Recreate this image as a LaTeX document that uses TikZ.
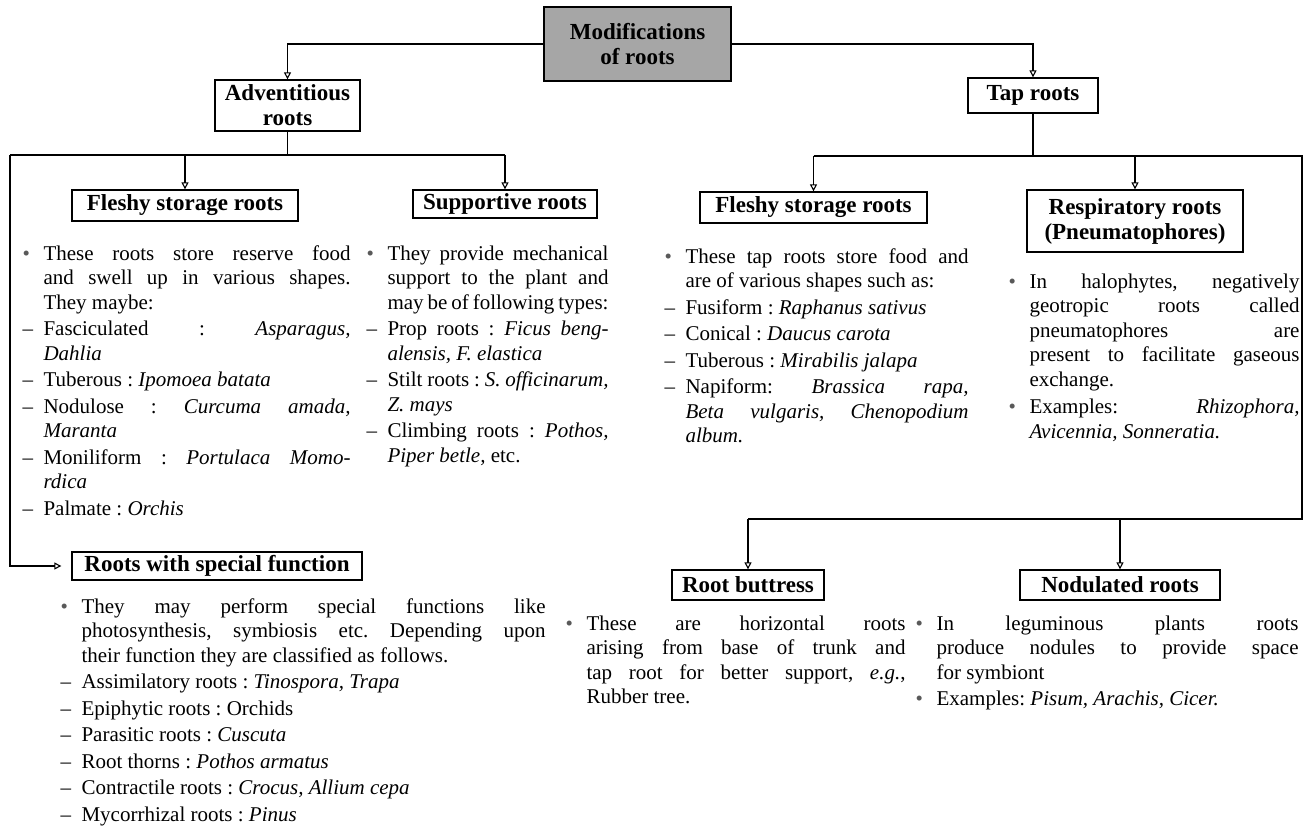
\documentclass[tikz,border=0pt]{standalone}
\usepackage{fontspec}
\setmainfont{Liberation Serif}
\usepackage{tikz}
\usetikzlibrary{arrows.meta}

\tolerance=10000
\hbadness=10000
\hfuzz=30pt
\frenchspacing

% list marks used in the text blocks
\newcommand{\bitem}{\par\hangindent=21pt\hangafter=1\noindent\strut\makebox[21pt][l]{\textcolor{black!65}{\textbullet}}}
\newcommand{\ditem}{\par\vspace{2pt}\hangindent=21pt\hangafter=1\noindent\strut\makebox[21pt][l]{--}}

\begin{document}
\begin{tikzpicture}[x=1pt, y=-1pt, >={Triangle[open, length=7pt, width=7pt]}, line width=1.1pt,
  rootbox/.style={draw, line width=1.3pt, fill=white, font=\fontsize{23}{25}\selectfont\bfseries, align=center, inner sep=2pt},
  titlebox/.style={rootbox, line width=2pt, fill=black!35},
  txt/.style={anchor=north west, inner sep=0pt, align=justify, font=\fontsize{21}{24.5}\selectfont}]

  \useasboundingbox (0,0) rectangle (1308,829);

  % Define positions
  \node (title) [titlebox, minimum width=187pt, minimum height=74pt] at (637.5,44) {Modifications\\of roots};
  \node (advent) [rootbox, minimum width=145pt, minimum height=51pt] at (287.5,105.5) {Adventitious\\roots};
  \node (tap) [rootbox, minimum width=130pt, minimum height=35pt] at (1033,95.5) {Tap roots};

  \node (fleshyA) [rootbox, minimum width=226pt, minimum height=31pt] at (185,205.5) {Fleshy storage roots};
  \node (support) [rootbox, minimum width=184pt, minimum height=28pt] at (505,204) {Supportive roots};
  \node (fleshyT) [rootbox, minimum width=227pt, minimum height=31pt] at (813.5,207.5) {Fleshy storage roots};
  \node (resp) [rootbox, minimum width=216pt, minimum height=62pt] at (1135,221) {Respiratory roots\\(Pneumatophores)};

  \node (special) [rootbox, minimum width=290pt, minimum height=28pt] at (217,566) {Roots with special function};
  \node (buttress) [rootbox, minimum width=152pt, minimum height=30pt] at (748,585) {Root buttress};
  \node (nodul) [rootbox, minimum width=200pt, minimum height=30pt] at (1120,585) {Nodulated roots};

  % Text blocks
  \node (fleshyAtxt) [txt, text width=328pt] at (22,235) {%
    \bitem These roots store reserve food\linebreak and swell up in various shapes.\linebreak They maybe:
    \ditem Fasciculated : \textit{Asparagus,\linebreak Dahlia}
    \ditem Tuberous : \textit{Ipomoea batata}
    \ditem Nodulose : \textit{Curcuma amada,\linebreak Maranta}
    \ditem Moniliform : \textit{Portulaca Momo-\linebreak rdica}
    \ditem Palmate : \textit{Orchis}\par};

  \node (supporttxt) [txt, text width=242pt] at (366,235) {%
    \bitem They provide mechanical\linebreak support to the plant and\linebreak may be of following types:
    \ditem Prop roots : \textit{Ficus beng-\linebreak alensis, F. elastica}
    \ditem Stilt roots : \textit{S. officinarum,\linebreak Z. mays}
    \ditem Climbing roots : \textit{Pothos,\linebreak Piper betle,} etc.\par};

  \node (fleshyTtxt) [txt, text width=304pt] at (664,238) {%
    \bitem These tap roots store food and\linebreak are of various shapes such as:
    \ditem Fusiform : \textit{Raphanus sativus}
    \ditem Conical : \textit{Daucus carota}
    \ditem Tuberous : \textit{Mirabilis jalapa}
    \ditem Napiform: \textit{Brassica rapa,\linebreak Beta vulgaris, Chenopodium\linebreak album.}\par};

  \node (resptxt) [txt, text width=291pt] at (1008,263) {%
    \bitem In halophytes, negatively\linebreak geotropic roots called\linebreak pneumatophores are\linebreak present to facilitate gaseous\linebreak exchange.
    \par\vspace{3pt}
    \bitem Examples: \textit{Rhizophora,\linebreak Avicennia, Sonneratia.}\par};

  \node (specialtxt) [txt, text width=485pt] at (60,588) {%
    \bitem They may perform special functions like\linebreak photosynthesis, symbiosis etc. Depending upon\linebreak their function they are classified as follows.
    \ditem Assimilatory roots : \textit{Tinospora, Trapa}
    \ditem Epiphytic roots : Orchids
    \ditem Parasitic roots : \textit{Cuscuta}
    \ditem Root thorns : \textit{Pothos armatus}
    \ditem Contractile roots : \textit{Crocus, Allium cepa}
    \ditem Mycorrhizal roots : \textit{Pinus}\par};

  \node (buttresstxt) [txt, text width=340pt] at (565,605) {%
    \bitem These are horizontal roots\linebreak arising from base of trunk and\linebreak tap root for better support, \textit{e.g.},\linebreak Rubber tree.\par};

  \node (nodultxt) [txt, text width=383pt] at (915,605) {%
    \bitem In leguminous plants roots\linebreak produce nodules to provide space\linebreak for symbiont
    \par\vspace{2pt}
    \bitem Examples: \textit{Pisum, Arachis, Cicer.}\par};

  % Connectors
  \coordinate (advbar) at (10,155);
  \coordinate (tapbar) at (1302,156);
  \coordinate (lowbar) at (1302,519);

  \draw[->] (title.west) -| (advent.north);
  \draw[->] (title.east) -| (tap.north);

  \draw (advent.south) -- (advent.south |- advbar);
  \draw (advbar) -- (support.north |- advbar);
  \draw[->] (fleshyA.north |- advbar) -- (fleshyA.north);
  \draw[->] (support.north |- advbar) -- (support.north);
  \draw[->, shorten >=10pt] (advbar) |- (special.west);

  \draw (tap.south) -- (tap.south |- tapbar);
  \draw (fleshyT.north |- tapbar) -- (tapbar) -- (lowbar) -- (buttress.north |- lowbar);
  \draw[->] (fleshyT.north |- tapbar) -- (fleshyT.north);
  \draw[->] (resp.north |- tapbar) -- (resp.north);
  \draw[->] (buttress.north |- lowbar) -- (buttress.north);
  \draw[->] (nodul.north |- lowbar) -- (nodul.north);
\end{tikzpicture}
\end{document}
